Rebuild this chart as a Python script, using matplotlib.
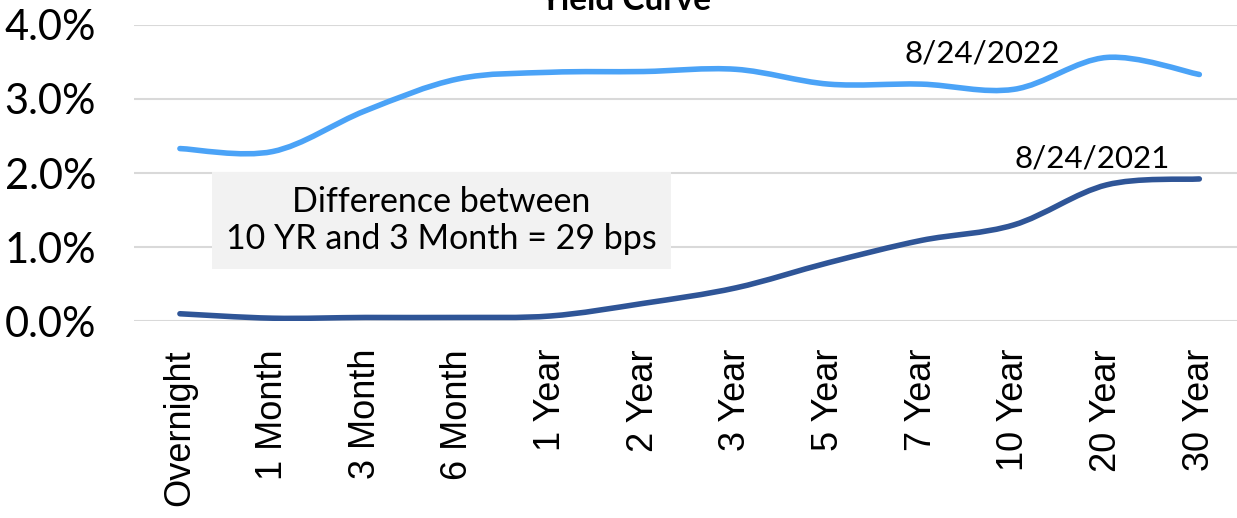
import numpy as np
import matplotlib
matplotlib.use("Agg")
import matplotlib.pyplot as plt
from matplotlib.path import Path
from matplotlib.patches import PathPatch
from matplotlib.ticker import PercentFormatter

# Treasury yield curve, two dates
maturities = ["Overnight", "1 Month", "3 Month", "6 Month", "1 Year", "2 Year",
              "3 Year", "5 Year", "7 Year", "10 Year", "20 Year", "30 Year"]
yields_2022 = [2.33, 2.29, 2.84, 3.27, 3.36, 3.37, 3.40, 3.20, 3.20, 3.13, 3.56, 3.33]
yields_2021 = [0.10, 0.04, 0.05, 0.05, 0.07, 0.24, 0.45, 0.79, 1.09, 1.30, 1.84, 1.92]
label_2022 = "8/24/2022"
label_2021 = "8/24/2021"
spread_text = "Difference between\n10 YR and 3 Month = 29 bps"


def smooth_path(xs, ys):
    # Bezier segments through every point (Catmull-Rom style, like Excel's smoothed lines)
    pts = np.column_stack([xs, ys]).astype(float)
    n = len(pts)
    verts = [pts[0]]
    codes = [Path.MOVETO]
    for i in range(n - 1):
        p0 = pts[i - 1] if i > 0 else pts[i]
        p1 = pts[i]
        p2 = pts[i + 1]
        p3 = pts[i + 2] if i + 2 < n else pts[i + 1]
        c1 = p1 + (p2 - p0) / 6.0
        c2 = p2 - (p3 - p1) / 6.0
        verts += [c1, c2, p2]
        codes += [Path.CURVE4] * 3
    return Path(verts, codes)


fig = plt.figure(figsize=(12.37, 5.18), dpi=100)
ax = fig.add_axes([0.108, 0.38, 0.899, 0.572])

x = np.arange(len(maturities))
for ys, col in [(yields_2022, "#4BA3F7"), (yields_2021, "#2F5597")]:
    ax.add_patch(PathPatch(smooth_path(x, ys), fc="none", ec=col, lw=4.0,
                           capstyle="round", joinstyle="round", zorder=3))

ax.set_xlim(-0.5, len(maturities) - 0.5)
ax.set_ylim(0, 4)
ax.set_yticks([0, 1, 2, 3, 4])
ax.yaxis.set_major_formatter(PercentFormatter(decimals=1))
ax.grid(axis="y", color="#d9d9d9", lw=1.5)
ax.set_axisbelow(True)
for s in ax.spines.values():
    s.set_visible(False)
ax.tick_params(length=0)
ax.tick_params(axis="y", pad=27)
ax.tick_params(axis="x", pad=20)

ax.set_xticks(x)
ax.set_xticklabels(maturities, rotation=90, fontsize=26, family="Liberation Sans")
for lbl in ax.get_yticklabels():
    lbl.set_fontsize(30)
    lbl.set_family("Lato")

ax.text(8.66, 3.62, label_2022, fontsize=22.5, family="Lato", ha="center", va="center", zorder=4)
ax.text(9.84, 2.2, label_2021, fontsize=22.5, family="Lato", ha="center", va="center", zorder=4)
ax.text(2.82, 1.36, spread_text, fontsize=24.5, family="Lato", ha="center", va="center",
        linespacing=1.2, zorder=4,
        bbox=dict(boxstyle="square,pad=0.42", fc="#f2f2f2", ec="none"))

fig.text(0.505, 1.0, "Yield Curve", fontsize=24, fontweight="bold", family="Lato",
         ha="center", va="center")

fig.savefig("out.png", dpi=100)
